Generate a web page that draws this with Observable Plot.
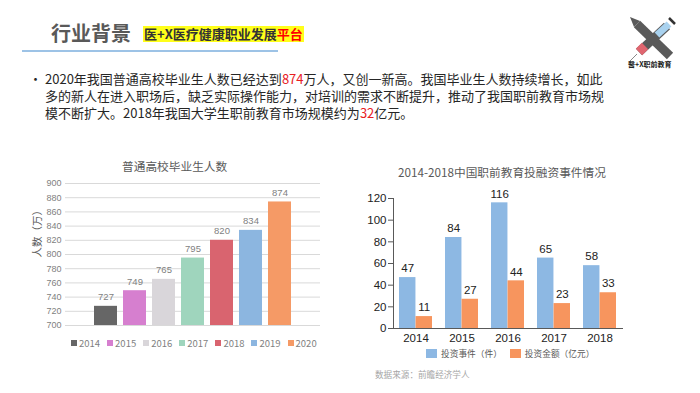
<!DOCTYPE html>
<html><head><meta charset="utf-8">
<script src="https://cdn.jsdelivr.net/npm/d3@7"></script>
<script src="https://cdn.jsdelivr.net/npm/@observablehq/plot@0.6"></script>
<style>
body{margin:0;background:#fff;font-family:"Noto Sans CJK SC","Noto Sans",sans-serif;}
#page{position:relative;width:700px;height:393px;overflow:hidden;background:#fff;}
.abs{position:absolute;white-space:nowrap;}
#head{left:51px;top:19px;font-size:20px;font-weight:bold;color:#595959;line-height:28px;}
#tag{left:143px;top:26px;height:16px;line-height:16px;font-size:13px;font-weight:bold;color:#333;background:#ffff1a;padding:0 1px;}
#tag .r{color:#ff0000;}
#rule{left:22px;top:50px;width:256px;height:2px;background:#9dc3e6;}
#logoText{left:628px;top:59px;font-size:7px;font-weight:bold;color:#222;}
#bullet{left:29px;top:70px;font-size:13px;color:#262626;line-height:17px;}
#para{left:45px;top:70px;font-size:13px;color:#262626;line-height:17px;}
#para .r{color:#e8201f;}
.ctitle{font-size:11.7px;color:#595959;}
#legL{left:71px;top:336px;font-size:9.5px;color:#7f7f7f;display:flex;gap:7px;}
#legL span.sw{display:inline-block;width:6px;height:6px;margin-right:2px;vertical-align:1px;}
#legR{left:426px;top:347px;font-size:8.7px;color:#595959;display:flex;gap:8px;}
#legR span.sw{display:inline-block;width:11px;height:9px;margin-right:4px;vertical-align:-1px;}
#src{left:375px;top:368px;font-size:8.6px;color:#a6a6a6;}
</style></head><body><div id="page">
<div class="abs" id="head">行业背景</div>
<div class="abs" id="tag">医+X医疗健康职业发展<span class="r">平台</span></div>
<div class="abs" id="rule"></div>
<svg class="abs" style="left:625px;top:14px" width="55" height="48">
  <g stroke-linecap="butt">
    <line x1="12" y1="10" x2="45" y2="42" stroke="#5a5a5a" stroke-width="9"/>
    <polygon points="5,3 15,7 9,13" fill="#5a5a5a"/>
    <line x1="42" y1="12" x2="14" y2="38" stroke="#5a5a5a" stroke-width="9"/>
    <line x1="44" y1="10" x2="32" y2="21" stroke="#a9d2ef" stroke-width="7"/>
    <line x1="20" y1="32" x2="14" y2="38" stroke="#e06670" stroke-width="9"/>
    <line x1="12" y1="40" x2="5" y2="47" stroke="#888" stroke-width="1"/>
    <line x1="44" y1="4" x2="50" y2="10" stroke="#333" stroke-width="2.5"/>
  </g>
</svg>
<div class="abs" id="logoText">醫+X职前教育</div>
<div class="abs" id="bullet">•</div>
<div class="abs" id="para">2020年我国普通高校毕业生人数已经达到<span class="r">874</span>万人，又创一新高。我国毕业生人数持续增长，如此<br>多的新人在进入职场后，缺乏实际操作能力，对培训的需求不断提升，推动了我国职前教育市场规<br>模不断扩大。2018年我国大学生职前教育市场规模约为<span class="r">32</span>亿元。</div>
<div class="abs ctitle" id="titleL" style="left:122px;top:157px;">普通高校毕业生人数</div>
<div class="abs ctitle" id="titleR" style="left:398px;top:163px;">2014-2018中国职前教育投融资事件情况</div>
<div class="abs" id="chartL" style="left:30px;top:175px;"></div>
<div class="abs" id="chartR" style="left:350px;top:180px;"></div>
<div class="abs" id="legL"></div>
<div class="abs" id="legR"></div>
<div class="abs" id="src">数据来源：前瞻经济学人</div>
</div>
<script>
// Left chart data
const gradYears = ["2014", "2015", "2016", "2017", "2018", "2019", "2020"];
const gradValues = [727, 749, 765, 795, 820, 834, 874];
const gradColors = ["#666666", "#d67fcf", "#d9d6da", "#9fd5bd", "#d9646f", "#8cb6e0", "#f59a66"];
const yTicksLeft = [700, 720, 740, 760, 780, 800, 820, 840, 860, 880, 900];
const yLabelLeft = "人数（万）";

// Right chart data
const invYears = ["2014", "2015", "2016", "2017", "2018"];
const invEvents = [47, 84, 116, 65, 58];
const invAmounts = [11, 27, 44, 23, 33];
const invSeries = ["投资事件（件）", "投资金额（亿元）"];
const invColors = ["#8db8e3", "#f7955e"];
const yTicksRight = [0, 20, 40, 60, 80, 100, 120];

const gradData = gradYears.map((year, i) => ({year, value: gradValues[i]}));
const left = Plot.plot({
  width: 300, height: 160, marginTop: 8, marginBottom: 10, marginLeft: 35, marginRight: 10,
  style: {fontFamily: "'Liberation Sans', Arial, sans-serif", fontSize: "9px", color: "#7f7f7f", background: "transparent", overflow: "visible"},
  x: {domain: gradYears, range: [58.75, 265.25], paddingInner: 0.22, paddingOuter: 0.11, axis: null},
  y: {domain: [yTicksLeft[0], yTicksLeft[yTicksLeft.length - 1]]},
  color: {domain: gradYears, range: gradColors},
  marks: [
    Plot.gridY(yTicksLeft, {stroke: "#d9d9d9", strokeOpacity: 1}),
    Plot.axisY(yTicksLeft, {tickSize: 0, tickPadding: 4, label: null, fill: "#7f7f7f"}),
    Plot.text([yLabelLeft], {frameAnchor: "left", rotate: -90, dx: -28, dy: 3, fontSize: 10.5, fill: "#595959", fontFamily: "'Noto Sans CJK SC', sans-serif"}),
    Plot.barY(gradData, {x: "year", y1: yTicksLeft[0], y2: "value", fill: "year"}),
    Plot.text(gradData, {x: "year", y: "value", text: d => String(d.value), dy: -9, fill: "#7f7f7f", fontSize: 9.5})
  ]
});
document.getElementById("chartL").appendChild(left);

const invData = invYears.map((year, i) => ({year, events: invEvents[i], amount: invAmounts[i]}));
const W = 290, ML = 43, MR = 17, PAD = 0.28;
const step = (W - ML - MR) / invYears.length;
const bw = step * (1 - PAD);
const right = Plot.plot({
  width: W, height: 170, marginTop: 18, marginBottom: 22, marginLeft: ML, marginRight: MR,
  style: {fontFamily: "'Liberation Sans', Arial, sans-serif", fontSize: "11px", color: "#333", background: "transparent", overflow: "visible"},
  x: {domain: invYears, paddingInner: PAD, paddingOuter: PAD / 2},
  y: {domain: [yTicksRight[0], yTicksRight[yTicksRight.length - 1]]},
  marks: [
    Plot.barY(invData, {x: "year", y: "events", fill: invColors[0], insetRight: bw / 2}),
    Plot.barY(invData, {x: "year", y: "amount", fill: invColors[1], insetLeft: bw / 2}),
    Plot.text(invData, {x: "year", y: "events", text: d => String(d.events), dx: -bw / 4, dy: -9, fill: "#222", fontSize: 11.5}),
    Plot.text(invData, {x: "year", y: "amount", text: d => String(d.amount), dx: bw / 4, dy: -9, fill: "#222", fontSize: 11.5}),
    Plot.axisY(yTicksRight, {tickSize: 5, tickPadding: 2, label: null, stroke: "#595959", fill: "#222", fontSize: 11.5}),
    Plot.axisX({tickSize: 0, tickPadding: 5, label: null, fill: "#222", fontSize: 11.5}),
    Plot.frame({anchor: "left", stroke: "#595959"}),
    Plot.ruleY([0], {stroke: "#595959"})
  ]
});
document.getElementById("chartR").appendChild(right);

// Legends
const legL = document.getElementById("legL");
gradYears.forEach((y, i) => {
  const it = document.createElement("span");
  it.innerHTML = `<span class="sw" style="background:${gradColors[i]}"></span>${y}`;
  legL.appendChild(it);
});
const legR = document.getElementById("legR");
invSeries.forEach((s, i) => {
  const it = document.createElement("span");
  it.innerHTML = `<span class="sw" style="background:${invColors[i]}"></span>${s}`;
  legR.appendChild(it);
});
</script>
</body></html>
